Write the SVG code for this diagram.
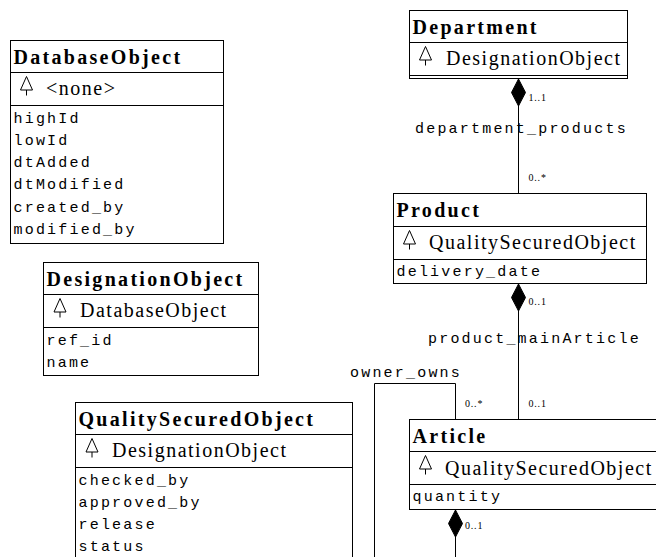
<svg xmlns="http://www.w3.org/2000/svg" width="656" height="557" viewBox="0 0 656 557">
<style>
.box{fill:#fff;stroke:#000;stroke-width:1}
.div{stroke:#000;stroke-width:1}
.ico{fill:none;stroke:#000;stroke-width:1}
.hdr{font-family:"Liberation Serif",serif;font-weight:bold;font-size:20px;letter-spacing:2.3px;fill:#000}
.sup{font-family:"Liberation Serif",serif;font-size:20px;letter-spacing:1.5px;fill:#000}
.attr{font-family:"Liberation Mono",monospace;font-size:15px;letter-spacing:2.2px;fill:#000}
.mult{font-family:"Liberation Serif",serif;font-size:10px;letter-spacing:0.8px;fill:#000}
.conn{fill:none;stroke:#000;stroke-width:1}
.dia{fill:#000;stroke:#000;stroke-width:1}
</style>
<rect width="656" height="557" fill="#fff"/>

<g id="DatabaseObject">
<rect class="box" x="10.5" y="40.5" width="213" height="203"/>
<line class="div" x1="10.5" y1="72.5" x2="223.5" y2="72.5"/>
<line class="div" x1="10.5" y1="105.5" x2="223.5" y2="105.5"/>
<text class="hdr" x="13.5" y="63.5">DatabaseObject</text>
<path class="ico" d="M26.5,76.5 L20.5,90 L32.5,90 Z M26.5,90 V95.5"/>
<text class="sup" x="46" y="95">&lt;none&gt;</text>
<text class="attr" x="13.5" y="122.5">highId</text>
<text class="attr" x="13.5" y="144.8">lowId</text>
<text class="attr" x="13.5" y="167.1">dtAdded</text>
<text class="attr" x="13.5" y="189.4">dtModified</text>
<text class="attr" x="13.5" y="211.7">created_by</text>
<text class="attr" x="13.5" y="234">modified_by</text>
</g>

<g id="DesignationObject">
<rect class="box" x="43.5" y="262.5" width="215" height="113"/>
<line class="div" x1="43.5" y1="294.5" x2="258.5" y2="294.5"/>
<line class="div" x1="43.5" y1="327.5" x2="258.5" y2="327.5"/>
<text class="hdr" x="46.5" y="285.5">DesignationObject</text>
<path class="ico" d="M60,298.5 L54,312 L66,312 Z M60,312 V317.5"/>
<text class="sup" x="80" y="317">DatabaseObject</text>
<text class="attr" x="46.5" y="344.5">ref_id</text>
<text class="attr" x="46.5" y="366.8">name</text>
</g>

<g id="QualitySecuredObject">
<rect class="box" x="75.5" y="402.5" width="277" height="200"/>
<line class="div" x1="75.5" y1="434.5" x2="352.5" y2="434.5"/>
<line class="div" x1="75.5" y1="467.5" x2="352.5" y2="467.5"/>
<text class="hdr" x="78.5" y="425.5">QualitySecuredObject</text>
<path class="ico" d="M92,438.5 L86,452 L98,452 Z M92,452 V457.5"/>
<text class="sup" x="112" y="457">DesignationObject</text>
<text class="attr" x="78.5" y="484.5">checked_by</text>
<text class="attr" x="78.5" y="506.8">approved_by</text>
<text class="attr" x="78.5" y="529.1">release</text>
<text class="attr" x="78.5" y="551.4">status</text>
</g>

<g id="Department">
<rect class="box" x="409.5" y="10.5" width="218" height="68"/>
<line class="div" x1="409.5" y1="42.5" x2="627.5" y2="42.5"/>
<line class="div" x1="409.5" y1="75.5" x2="627.5" y2="75.5"/>
<text class="hdr" x="412.5" y="33.5">Department</text>
<path class="ico" d="M425.5,46.5 L419.5,60 L431.5,60 Z M425.5,60 V65.5"/>
<text class="sup" x="446" y="65">DesignationObject</text>
</g>

<g id="Product">
<rect class="box" x="393.5" y="193.5" width="253" height="90"/>
<line class="div" x1="393.5" y1="226.5" x2="646.5" y2="226.5"/>
<line class="div" x1="393.5" y1="259.5" x2="646.5" y2="259.5"/>
<text class="hdr" x="396.5" y="216.5">Product</text>
<path class="ico" d="M409.5,230.5 L403.5,244 L415.5,244 Z M409.5,244 V249.5"/>
<text class="sup" x="429" y="249">QualitySecuredObject</text>
<text class="attr" x="396.5" y="275.5">delivery_date</text>
</g>

<g id="Article">
<rect class="box" x="409.5" y="419.5" width="260" height="90"/>
<line class="div" x1="409.5" y1="451.5" x2="669.5" y2="451.5"/>
<line class="div" x1="409.5" y1="484.5" x2="669.5" y2="484.5"/>
<text class="hdr" x="412.5" y="442.5">Article</text>
<path class="ico" d="M425.5,455.5 L419.5,469 L431.5,469 Z M425.5,469 V474.5"/>
<text class="sup" x="445" y="475">QualitySecuredObject</text>
<text class="attr" x="412.5" y="501">quantity</text>
</g>

<g id="connectors">
<text class="attr" x="415" y="132.5">department_products</text>
<line class="conn" x1="518.5" y1="78.5" x2="518.5" y2="193.5"/>
<path class="dia" d="M518.5,79 L525.5,92.5 L518.5,106 L511.5,92.5 Z"/>
<text class="mult" x="528.5" y="101">1..1</text>
<text class="mult" x="528.5" y="181">0..*</text>

<text class="attr" x="428" y="343">product_mainArticle</text>
<line class="conn" x1="518.5" y1="283.5" x2="518.5" y2="419.5"/>
<path class="dia" d="M518.5,284 L525.5,297.5 L518.5,311 L511.5,297.5 Z"/>
<text class="mult" x="528.5" y="305">0..1</text>
<text class="mult" x="528.5" y="407">0..1</text>

<text class="attr" x="350" y="377">owner_owns</text>
<polyline class="conn" points="455.5,419.5 455.5,383.5 374.5,383.5 374.5,560"/>
<line class="conn" x1="455.5" y1="509.5" x2="455.5" y2="560"/>
<path class="dia" d="M455.5,510 L462.5,523.5 L455.5,537 L448.5,523.5 Z"/>
<text class="mult" x="465" y="407">0..*</text>
<text class="mult" x="465" y="529">0..1</text>
</g>
</svg>
